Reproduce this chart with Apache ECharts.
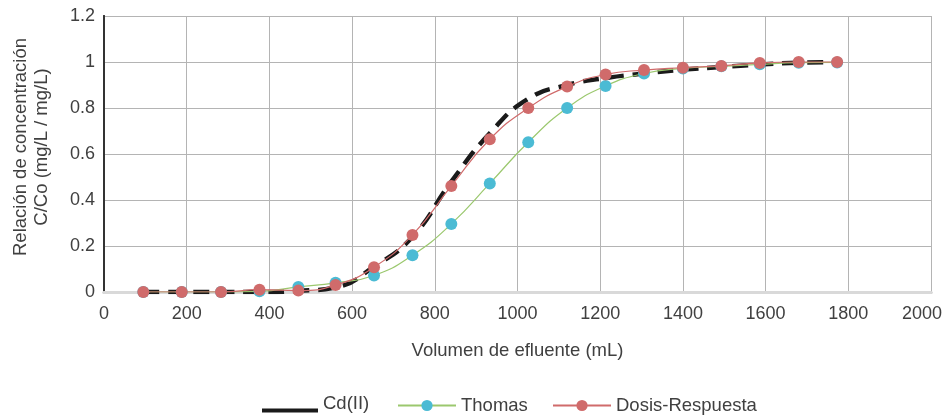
<!DOCTYPE html>
<html>
<head>
<meta charset="utf-8">
<script src="https://cdn.jsdelivr.net/npm/echarts@6/dist/echarts.min.js"></script>
<style>
html,body{margin:0;padding:0;background:#fff;}
#chart{width:948px;height:418px;}
</style>
</head>
<body>
<div id="chart"></div>
<script>
// Data
const volumes = [95, 188, 283, 376, 470, 560, 653, 746, 840, 933, 1026, 1120, 1213, 1306, 1400, 1493, 1586, 1680, 1773];
const cdExp = [0, 0, 0, 0, 0.005, 0.02, 0.11, 0.24, 0.48, 0.69, 0.84, 0.9, 0.93, 0.95, 0.967, 0.978, 0.989, 0.997, 1.0];
const thomas = [0, 0, 0, 0.003, 0.022, 0.04, 0.072, 0.16, 0.296, 0.472, 0.651, 0.8, 0.896, 0.95, 0.972, 0.981, 0.99, 0.997, 0.998];
const dosis = [0, 0, 0, 0.01, 0.006, 0.03, 0.108, 0.248, 0.461, 0.664, 0.8, 0.893, 0.946, 0.965, 0.975, 0.983, 0.996, 1.0, 1.0];
const seriesNames = ['Cd(II)', 'Thomas', 'Dosis-Respuesta'];
const xTitle = 'Volumen de efluente (mL)';
const yTitle = 'Relación de concentración\nC/Co (mg/L / mg/L)';

const pair = (ys) => volumes.map((v, i) => [v, ys[i]]);
const txt = '#404040';
const font = 'Liberation Sans, Arial, sans-serif';

const chart = echarts.init(document.getElementById('chart'));
chart.setOption({
  animation: false,
  textStyle: {fontFamily: font, color: txt},
  grid: {left: 104, right: 17, top: 16, bottom: 126, containLabel: false, outerBoundsMode: 'none'},
  xAxis: [{
    type: 'value', min: 0, max: 2000, interval: 200,
    name: xTitle, nameLocation: 'middle', nameGap: 49,
    nameTextStyle: {fontSize: 18.5, color: txt, fontFamily: font},
    axisLine: {show: true, onZero: false, lineStyle: {color: '#bfbfbf', width: 3}},
    axisTick: {show: false},
    axisLabel: {
      fontSize: 18, color: txt, margin: 13, fontFamily: font,
      formatter: (v) => v === 2000 ? '{last|' + v + '}' : String(v),
      rich: {last: {fontSize: 18, color: txt, fontFamily: font, padding: [0, 18, 0, 0]}}
    },
    splitLine: {show: true, lineStyle: {color: '#b4b4b4', width: 1}}
  }, {
    type: 'value', min: 0, max: 2000, interval: 200, position: 'top',
    axisLine: {show: true, lineStyle: {color: '#d9d9d9', width: 3}},
    axisTick: {show: false}, axisLabel: {show: false}, splitLine: {show: false}
  }],
  yAxis: [{
    type: 'value', min: 0, max: 1.2, interval: 0.2,
    name: yTitle, nameLocation: 'middle', nameGap: 52, nameRotate: 90,
    nameTextStyle: {fontSize: 18.5, color: txt, fontFamily: font, lineHeight: 21, align: 'center', padding: [0, 0, 0, 14]},
    axisLine: {show: true, onZero: false, lineStyle: {color: '#333333', width: 2}},
    axisTick: {show: false},
    axisLabel: {fontSize: 18, color: txt, margin: 9, fontFamily: font, formatter: (v) => String(v)},
    splitLine: {show: true, lineStyle: {color: '#b4b4b4', width: 1}}
  }, {
    type: 'value', min: 0, max: 1.2, interval: 0.2, position: 'right',
    axisLine: {show: true, lineStyle: {color: '#333333', width: 2}},
    axisTick: {show: false}, axisLabel: {show: false}, splitLine: {show: false}
  }],
  legend: [{
    data: [{name: seriesNames[0], icon: 'path://M0,0 L0,0 M0,14 L56,14 L56,18 L0,18 Z'}],
    left: 262, top: 394, padding: 0, itemWidth: 56, itemHeight: 18,
    itemStyle: {color: '#1a1a1a'},
    textStyle: {fontSize: 18.5, color: txt, fontFamily: font}
  }, {
    data: [seriesNames[1]], left: 397, top: 396, padding: 0, itemWidth: 58, itemHeight: 14,
    textStyle: {fontSize: 18.5, color: txt, fontFamily: font}
  }, {
    data: [seriesNames[2]], left: 552, top: 396, padding: 0, itemWidth: 58, itemHeight: 14,
    textStyle: {fontSize: 18.5, color: txt, fontFamily: font}
  }],
  series: [{
    name: seriesNames[0], type: 'line', data: pair(cdExp), smooth: true,
    symbol: 'none', showSymbol: false,
    itemStyle: {color: '#1a1a1a'},
    lineStyle: {color: '#1a1a1a', width: 4.5, type: [16, 9]},
    z: 2
  }, {
    name: seriesNames[1], type: 'line', data: pair(thomas), smooth: true,
    symbol: 'circle', symbolSize: 12, showSymbol: true,
    itemStyle: {color: '#4bbbd4'},
    lineStyle: {color: '#9bc86e', width: 1.2},
    z: 3
  }, {
    name: seriesNames[2], type: 'line', data: pair(dosis), smooth: true,
    symbol: 'circle', symbolSize: 12, showSymbol: true,
    itemStyle: {color: '#d06b6b'},
    lineStyle: {color: '#d06b6b', width: 1.2},
    z: 4
  }]
});
</script>
</body>
</html>
